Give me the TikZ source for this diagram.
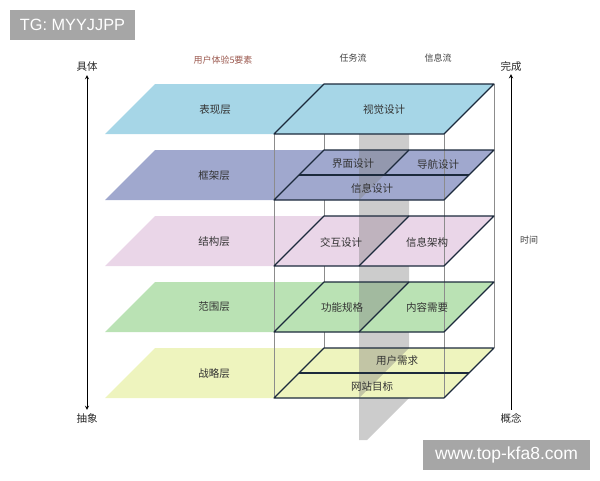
\documentclass[tikz,border=0pt]{standalone}
\usepackage{fontspec}
\setmainfont{Liberation Sans}
\newfontfamily\cjk{Noto Sans CJK SC}
\usetikzlibrary{arrows, positioning}
\definecolor{biaoxian}{HTML}{A6D6E7}
\definecolor{kuangjia}{HTML}{A0A8CE}
\definecolor{jiegou}{HTML}{EAD6E8}
\definecolor{fanwei}{HTML}{BAE2B4}
\definecolor{zhanlue}{HTML}{EEF4BE}
\definecolor{edgeblue}{HTML}{1C2A3C}
\definecolor{titlered}{HTML}{9C5A50}
\tikzset{
  lname/.style = {font=\cjk\fontsize{10.5}{12}\selectfont, text=black!80, inner sep=1pt},
  btxt/.style = {font=\cjk\fontsize{10.5}{12}\selectfont, text=black!80, inner sep=1pt},
  small/.style = {font=\cjk\fontsize{9}{11}\selectfont, text=black!75, inner sep=1pt},
  side/.style = {font=\cjk\fontsize{10.5}{12}\selectfont, text=black!85, inner sep=1pt},
  outline/.style = {draw=edgeblue, line width=1.1pt, line join=round},
  pillar/.style = {draw=black!45, line width=0.7pt},
  band/.style = {fill=black!20},
  bandshade/.style = {fill=black!50, fill opacity=0.4},
  axis/.style = {line width=0.9pt, black},
  wm/.style = {fill=black!35, text=white, inner sep=0pt, minimum height=30pt},
}

\begin{document}
\begin{tikzpicture}[x=1pt, y=-1pt]
\useasboundingbox (0,0) rectangle (600,480);

% back pillars of the box
\draw [pillar] (324,84) -- (324,348);
\draw [pillar] (494,84) -- (494,348);

% task flow band
\fill [band] (359,84) -- (409,84) -- (409,398) -- (367,440) -- (359,440) -- cycle;

% the five planes
\fill [kuangjia] (105,200) -- (155,150) -- (494,150) -- (444,200) -- cycle;
\fill [jiegou] (105,266) -- (155,216) -- (494,216) -- (444,266) -- cycle;
\fill [fanwei] (105,332) -- (155,282) -- (494,282) -- (444,332) -- cycle;
\fill [zhanlue] (105,398) -- (155,348) -- (494,348) -- (444,398) -- cycle;

% band seen through the planes
\fill [bandshade] (359,200) -- (359,150) -- (409,150) -- cycle;
\fill [bandshade] (359,266) -- (359,216) -- (409,216) -- cycle;
\fill [bandshade] (359,332) -- (359,282) -- (409,282) -- cycle;
\fill [bandshade] (359,398) -- (359,348) -- (409,348) -- cycle;

% front pillars
\draw [pillar] (274,134) -- (274,398);
\draw [pillar] (444,134) -- (444,398);

% top plane
\fill [biaoxian] (105,134) -- (155,84) -- (494,84) -- (444,134) -- cycle;

% outlines inside the box
\draw [outline] (274,134) -- (324,84) -- (494,84) -- (444,134) -- cycle;
\draw [outline] (274,200) -- (324,150) -- (494,150) -- (444,200) -- cycle;
\draw [outline] (299,175) -- (469,175);
\draw [outline] (384,175) -- (409,150);
\draw [outline] (274,266) -- (324,216) -- (494,216) -- (444,266) -- cycle;
\draw [outline] (359,266) -- (409,216);
\draw [outline] (274,332) -- (324,282) -- (494,282) -- (444,332) -- cycle;
\draw [outline] (359,332) -- (409,282);
\draw [outline] (274,398) -- (324,348) -- (494,348) -- (444,398) -- cycle;
\draw [outline] (299,373) -- (469,373);

% plane names
\node [lname] (l1) at (215,110) {表现层};
\node [lname] (l2) at (214,176) {框架层};
\node [lname] (l3) at (214,242) {结构层};
\node [lname] (l4) at (214,307) {范围层};
\node [lname] (l5) at (214,374) {战略层};

% elements
\node [btxt] (visual) at (384,110) {视觉设计};
\node [btxt] (iface) at (353,164) {界面设计};
\node [btxt] (navi) at (438,164) {导航设计};
\node [btxt] (infod) at (372,188) {信息设计};
\node [btxt] (interact) at (341,242) {交互设计};
\node [btxt] (infoarch) at (427,242) {信息架构};
\node [btxt] (func) at (342,307) {功能规格};
\node [btxt] (content) at (427,307) {内容需要};
\node [btxt] (userneed) at (397,361) {用户需求};
\node [btxt] (sitegoal) at (372,386) {网站目标};

% headings
\node [small, text=titlered] (title) at (223,60) {用户体验5要素};
\node [small] (taskflow) at (353,58) {任务流};
\node [small] (infoflow) at (438,58) {信息流};

% axes
\node [side] (concrete) at (87,67) {具体};
\node [side] (abstract) at (87,418) {抽象};
\draw [axis, stealth-stealth] ([yshift=-2pt]concrete.south) -- ([yshift=2pt]abstract.north);
\node [side] (done) at (511,66) {完成};
\node [side] (concept) at (511,418) {概念};
\draw [axis, -stealth] ([yshift=2pt]concept.north) -- ([yshift=-2pt]done.south);
\coordinate (timeref) at (511,240);
\node [small, right=8pt of timeref] (time) {时间};

% marks
\node [wm, minimum width=125pt, font=\fontsize{16.3}{18}\selectfont] (tg) at (72.5,25) {TG: MYYJJPP};
\node [wm, minimum width=167pt, font=\fontsize{17.5}{19}\selectfont] (site) at (506.5,455) {www.top-kfa8.com};
\end{tikzpicture}
\end{document}
